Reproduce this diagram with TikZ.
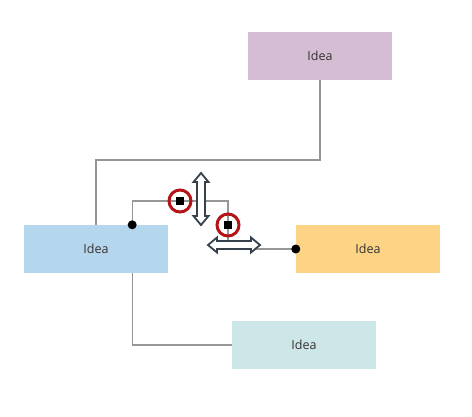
\documentclass[tikz,border=0pt]{standalone}
\usepackage{fontspec}
\setmainfont{Open Sans}
\usetikzlibrary{positioning, calc}
\definecolor{ideapurple}{RGB}{213,189,212}
\definecolor{ideablue}{RGB}{181,215,238}
\definecolor{ideaorange}{RGB}{253,211,133}
\definecolor{ideateal}{RGB}{205,230,232}
\definecolor{linkgray}{RGB}{150,150,150}
\definecolor{handlered}{RGB}{180,20,24}
\definecolor{arrowdark}{RGB}{55,65,75}
\definecolor{textdark}{RGB}{55,50,50}
\tikzset{
  idea/.style={rectangle, minimum width=144pt, minimum height=48pt, inner sep=0pt,
    font=\fontsize{12.5}{14}\selectfont, text=textdark},
  link/.style={draw=linkgray, line width=1.1pt},
  enddot/.style={circle, fill=black, minimum size=9pt, inner sep=0pt},
  handle/.style={rectangle, fill=black, minimum size=8pt, inner sep=0pt},
  handlering/.style={circle, draw=handlered, line width=3pt,
    minimum size=22pt, inner sep=0pt},
  movearrow/.pic={
    \draw[draw=arrowdark, fill=white, line width=1.8pt, line join=miter]
      (0,-26) -- (7.5,-17) -- (4,-17) -- (4,17) -- (7.5,17) -- (0,26)
      -- (-7.5,17) -- (-4,17) -- (-4,-17) -- (-7.5,-17) -- cycle;
  }
}
\begin{document}
\begin{tikzpicture}[x=1pt, y=-1pt]
  \useasboundingbox (0,0) rectangle (472,416);
  % boxes
  \node[idea, fill=ideapurple] (ideaTop) at (320,56) {Idea};
  \node[idea, fill=ideablue] (ideaLeft) at (96,249) {Idea};
  \node[idea, fill=ideaorange] (ideaRight) at (368,249) {Idea};
  \node[idea, fill=ideateal] (ideaBottom) at (304,345) {Idea};
  \coordinate (linkStart) at ($(ideaLeft.north east)+(-36,0)$);
  \coordinate (bendA) at (180,201);
  \coordinate (bendB) at (228,225);
  % connectors
  \draw[link] (ideaTop.south) -- (ideaTop.south |- 0,160) -| (ideaLeft.north);
  \draw[link] (linkStart) |- (bendB |- bendA) -- (bendB) |- (ideaRight.west);
  \draw[link] (ideaLeft.south -| linkStart) |- (ideaBottom.west);
  \node[enddot] (dotStart) at (linkStart) {};
  \node[enddot] (dotEnd) at (ideaRight.west) {};
  % segment handles
  \pic at (201,199) {movearrow};
  \pic[rotate=90] at (234,245) {movearrow};
  \node[handlering] (ringA) at (bendA) {};
  \node[handle] (handleA) at (bendA) {};
  \node[handlering] (ringB) at (bendB) {};
  \node[handle] (handleB) at (bendB) {};
\end{tikzpicture}
\end{document}
